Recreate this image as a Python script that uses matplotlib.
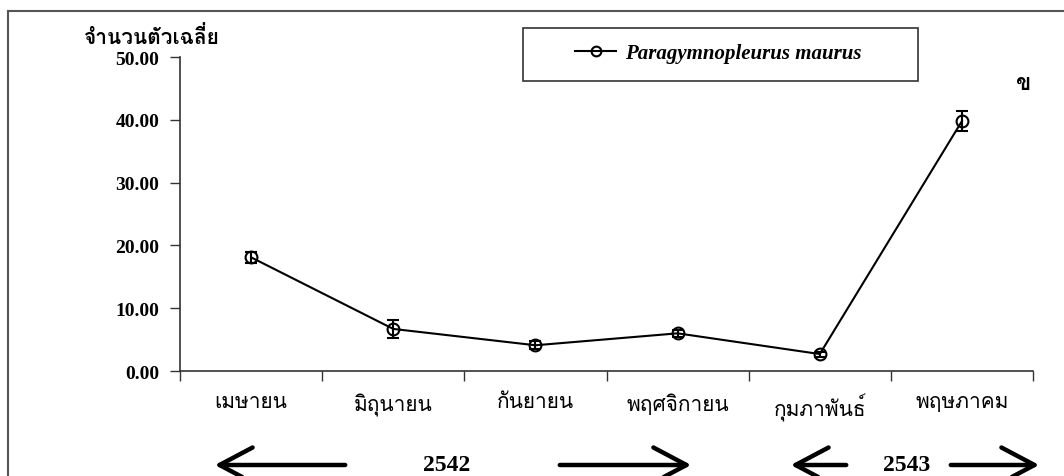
import matplotlib
matplotlib.use('Agg')
import matplotlib.pyplot as plt
from matplotlib import font_manager
from matplotlib.ft2font import FT2Font
from matplotlib.patches import Rectangle, FancyArrowPatch
from matplotlib.lines import Line2D

months = ['เมษายน', 'มิถุนายน', 'กันยายน', 'พฤศจิกายน', 'กุมภาพันธ์', 'พฤษภาคม']
mean_count = [18.1, 6.7, 4.1, 6.0, 2.7, 39.8]
std_err = [0.9, 1.4, 0.6, 0.6, 0.4, 1.6]
species = 'Paragymnopleurus maurus'
y_ticks = [0, 10, 20, 30, 40, 50]


def find_thai_font():
    # pick any installed font that actually has Thai glyphs
    for f in font_manager.fontManager.ttflist:
        try:
            if 0x0E08 in FT2Font(f.fname).get_charmap():
                return f.name
        except Exception:
            pass
    return None


thai = find_thai_font()
serif = ['Liberation Serif'] + ([thai] if thai else []) + ['DejaVu Sans']

fig = plt.figure(figsize=(10.64, 4.77), dpi=100)
ax = fig.add_axes([0.1692, 0.2201, 0.8017, 0.6583])

x = list(range(len(months)))
ax.errorbar(x, mean_count, yerr=std_err, color='black', lw=1.5,
            marker='o', ms=8.5, mfc='none', mec='black', mew=1.5,
            capsize=4.5, capthick=1.5, elinewidth=1.5)

ax.set_xlim(-0.5, len(months) - 0.5)
ax.set_ylim(0, 50)
ax.set_yticks(y_ticks)
ax.set_yticklabels([f'{v:.2f}' for v in y_ticks], family=serif,
                   fontsize=14, fontweight='bold')

# boundary ticks between months, labels at the centres
ax.set_xticks([i - 0.5 for i in range(len(months) + 1)])
ax.set_xticklabels([])
ax.set_xticks(x, minor=True)
ax.set_xticklabels(months, minor=True, family=serif, fontsize=15)
ax.tick_params(axis='x', which='minor', length=0, pad=16)
ax.tick_params(axis='x', which='major', length=7, width=1, color='#333333')
ax.tick_params(axis='y', length=7, width=1, color='#333333', pad=8)

for side in ['top', 'right']:
    ax.spines[side].set_visible(False)
for side in ['left', 'bottom']:
    ax.spines[side].set_color('#333333')
    ax.spines[side].set_linewidth(1.2)

fig.text(152 / 1064, 1 - 38 / 477, 'จำนวนตัวเฉลี่ย', family=serif,
         fontsize=15, fontweight='bold', ha='center', va='center')
fig.text(1024 / 1064, 1 - 85 / 477, 'ข', family=serif,
         fontsize=16, fontweight='bold', ha='center', va='center')

# legend box
fig.patches.append(Rectangle((523 / 1064, 1 - 82 / 477), 395 / 1064, 53 / 477,
                             transform=fig.transFigure, fill=False,
                             edgecolor='#333333', lw=1.2))
handle = Line2D([], [], color='black', lw=1.5, marker='o', ms=7,
                mfc='none', mec='black', mew=1.5)
fig.legend([handle], [species], loc='center',
           bbox_to_anchor=(718 / 1064, 1 - 54 / 477), frameon=False,
           prop=dict(family=serif, size=15, weight='bold', style='italic'),
           handlelength=2.0, handletextpad=0.4)

# outer frame
fig.add_artist(Line2D([8 / 1064, 1], [1 - 12 / 477, 1 - 12 / 477],
                      transform=fig.transFigure, color='#555555', lw=1.5))
fig.add_artist(Line2D([8 / 1064, 8 / 1064], [0, 1 - 12 / 477],
                      transform=fig.transFigure, color='#555555', lw=1.5))

# year arrows along the bottom
arrow_y = 1 - 466 / 477
style = dict(arrowstyle='->,head_length=1.7,head_width=0.9', lw=3.2, color='black')
for tail, head in [(348, 212), (557, 694), (849, 788), (948, 1042)]:
    fig.add_artist(FancyArrowPatch(
        (tail / 1064, arrow_y), (head / 1064, arrow_y),
        transform=fig.transFigure, mutation_scale=14, **style))
for label, xp in [('2542', 447), ('2543', 907)]:
    fig.text(xp / 1064, 1 - 466 / 477, label, family=serif, fontsize=17,
             fontweight='bold', ha='center', va='center')

fig.savefig('out.png', dpi=100)
